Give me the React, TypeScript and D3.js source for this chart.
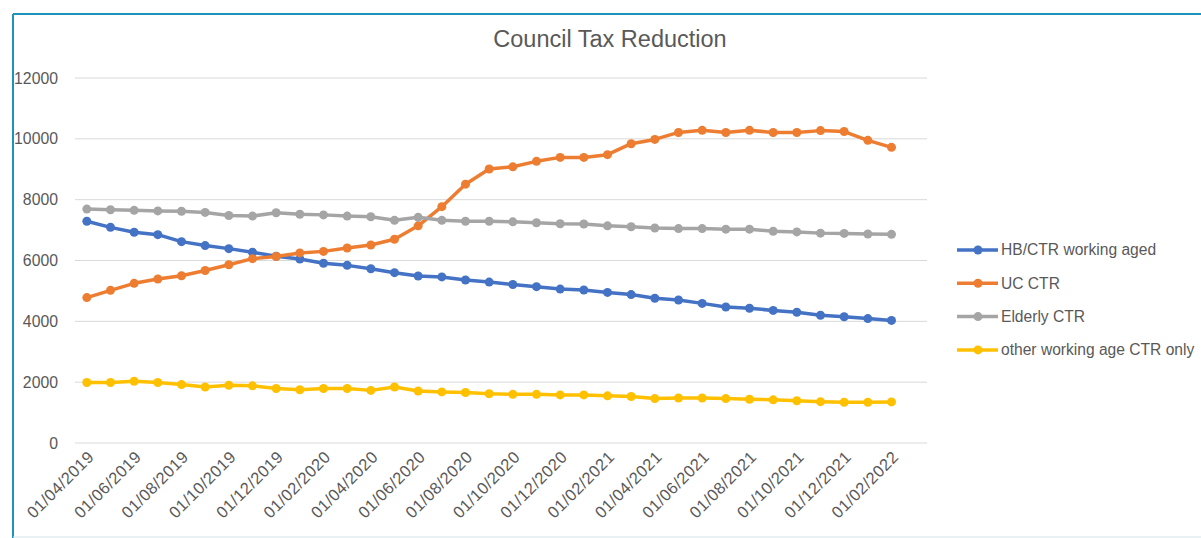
import { useEffect, useRef } from 'react';
import * as d3 from 'd3';

// monthly snapshots; the last category carries no data (Excel left an empty slot)
const months = [
  '01/04/2019', '01/05/2019', '01/06/2019', '01/07/2019', '01/08/2019', '01/09/2019',
  '01/10/2019', '01/11/2019', '01/12/2019', '01/01/2020', '01/02/2020', '01/03/2020',
  '01/04/2020', '01/05/2020', '01/06/2020', '01/07/2020', '01/08/2020', '01/09/2020',
  '01/10/2020', '01/11/2020', '01/12/2020', '01/01/2021', '01/02/2021', '01/03/2021',
  '01/04/2021', '01/05/2021', '01/06/2021', '01/07/2021', '01/08/2021', '01/09/2021',
  '01/10/2021', '01/11/2021', '01/12/2021', '01/01/2022', '01/02/2022', '01/03/2022',
];

const hbWorking = [
  7290, 7090, 6930, 6850, 6620, 6490, 6390, 6270, 6140, 6050, 5910, 5840,
  5730, 5600, 5490, 5460, 5360, 5290, 5210, 5140, 5060, 5030, 4950, 4880,
  4760, 4700, 4590, 4470, 4430, 4360, 4300, 4200, 4150, 4090, 4030,
];
const ucCtr = [
  4780, 5020, 5250, 5390, 5500, 5670, 5860, 6060, 6130, 6250, 6300, 6410,
  6510, 6700, 7140, 7770, 8510, 9010, 9080, 9260, 9390, 9390, 9480, 9840,
  9980, 10210, 10280, 10210, 10280, 10210, 10210, 10270, 10240, 9950, 9720,
];
const elderlyCtr = [
  7690, 7670, 7650, 7630, 7620, 7580, 7480, 7460, 7570, 7520, 7500, 7460,
  7440, 7320, 7420, 7320, 7290, 7290, 7270, 7240, 7210, 7200, 7140, 7110,
  7070, 7050, 7050, 7030, 7030, 6960, 6940, 6900, 6890, 6870, 6860,
];
const otherWorking = [
  1990, 1990, 2030, 1990, 1920, 1840, 1900, 1880, 1790, 1750, 1790, 1790,
  1730, 1840, 1710, 1680, 1660, 1620, 1600, 1600, 1580, 1580, 1550, 1530,
  1460, 1480, 1480, 1460, 1440, 1420, 1390, 1360, 1340, 1340, 1350,
];

const seriesNames = ['HB/CTR working aged', 'UC CTR', 'Elderly CTR', 'other working age CTR only'];
const seriesColors = ['#4472C4', '#ED7D31', '#A5A5A5', '#FFC000'];
const yTicks = [0, 2000, 4000, 6000, 8000, 10000, 12000];

const W = 1201;
const H = 538;
const FONT = '"Liberation Sans", Arial, sans-serif';
const TEXT = '#595959';

export default function App() {
  const svgRef = useRef<SVGSVGElement>(null);

  useEffect(() => {
    if (!svgRef.current) return;
    const svg = d3.select(svgRef.current);
    svg.selectAll('*').remove();

    const left = 75, right = 927, top = 78, bottom = 443;

    const x = d3.scalePoint<string>().domain(months).range([left, right]).padding(0.5);
    const y = d3.scaleLinear().domain([0, 12000]).range([bottom, top]);

    svg.append('rect').attr('width', W).attr('height', H).attr('fill', '#fff');

    // frame
    svg.append('line').attr('x1', 13).attr('x2', W).attr('y1', 14).attr('y2', 14)
      .attr('stroke', '#1b93bd').attr('stroke-width', 2);
    svg.append('line').attr('x1', 13).attr('x2', 13).attr('y1', 14).attr('y2', H)
      .attr('stroke', '#1b93bd').attr('stroke-width', 2);
    svg.append('line').attr('x1', 13).attr('x2', W).attr('y1', 537).attr('y2', 537)
      .attr('stroke', '#d6e4ea').attr('stroke-width', 1);

    // title
    svg.append('text')
      .attr('x', 610).attr('y', 47)
      .attr('text-anchor', 'middle')
      .attr('font-family', FONT).attr('font-size', 23.5)
      .attr('fill', TEXT)
      .text('Council Tax Reduction');

    // grid + y labels
    yTicks.forEach(t => {
      svg.append('line')
        .attr('x1', left).attr('x2', right)
        .attr('y1', y(t)).attr('y2', y(t))
        .attr('stroke', '#d9d9d9').attr('stroke-width', 1);
      svg.append('text')
        .attr('x', 58).attr('y', y(t))
        .attr('dy', '0.35em')
        .attr('text-anchor', 'end')
        .attr('font-family', FONT).attr('font-size', 15.8)
        .attr('fill', TEXT)
        .text(t);
    });

    // x labels, every other month, rotated
    months.forEach((m, i) => {
      if (i % 2 !== 0 || i >= hbWorking.length) return;
      const px = x(m)!;
      svg.append('text')
        .attr('transform', `translate(${px + 4},${bottom + 11}) rotate(-45)`)
        .attr('text-anchor', 'end')
        .attr('dy', '0.35em')
        .attr('font-family', FONT).attr('font-size', 16.5)
        .attr('letter-spacing', 0.4)
        .attr('fill', TEXT)
        .text(m);
    });

    const allSeries = [hbWorking, ucCtr, elderlyCtr, otherWorking];
    const line = d3.line<number>()
      .x((_, i) => x(months[i])!)
      .y(d => y(d));

    allSeries.forEach((vals, si) => {
      const g = svg.append('g');
      g.append('path')
        .datum(vals)
        .attr('d', line)
        .attr('fill', 'none')
        .attr('stroke', seriesColors[si])
        .attr('stroke-width', 3.5)
        .attr('stroke-linejoin', 'round');
      g.selectAll('circle')
        .data(vals)
        .join('circle')
        .attr('cx', (_, i) => x(months[i])!)
        .attr('cy', d => y(d))
        .attr('r', 4.5)
        .attr('fill', seriesColors[si]);
    });

    // legend
    const lg = svg.append('g');
    seriesNames.forEach((name, i) => {
      const ly = 250 + i * 33.3;
      lg.append('line')
        .attr('x1', 957).attr('x2', 998)
        .attr('y1', ly).attr('y2', ly)
        .attr('stroke', seriesColors[i]).attr('stroke-width', 3.5);
      lg.append('circle')
        .attr('cx', 978).attr('cy', ly).attr('r', 4.5)
        .attr('fill', seriesColors[i]);
      lg.append('text')
        .attr('x', 1001).attr('y', ly)
        .attr('dy', '0.35em')
        .attr('font-family', FONT).attr('font-size', 15.6)
        .attr('fill', TEXT)
        .text(name);
    });
  }, []);

  return (
    <svg
      ref={svgRef}
      width={W}
      height={H}
      style={{ position: 'absolute', left: 0, top: 0, display: 'block' }}
    />
  );
}
